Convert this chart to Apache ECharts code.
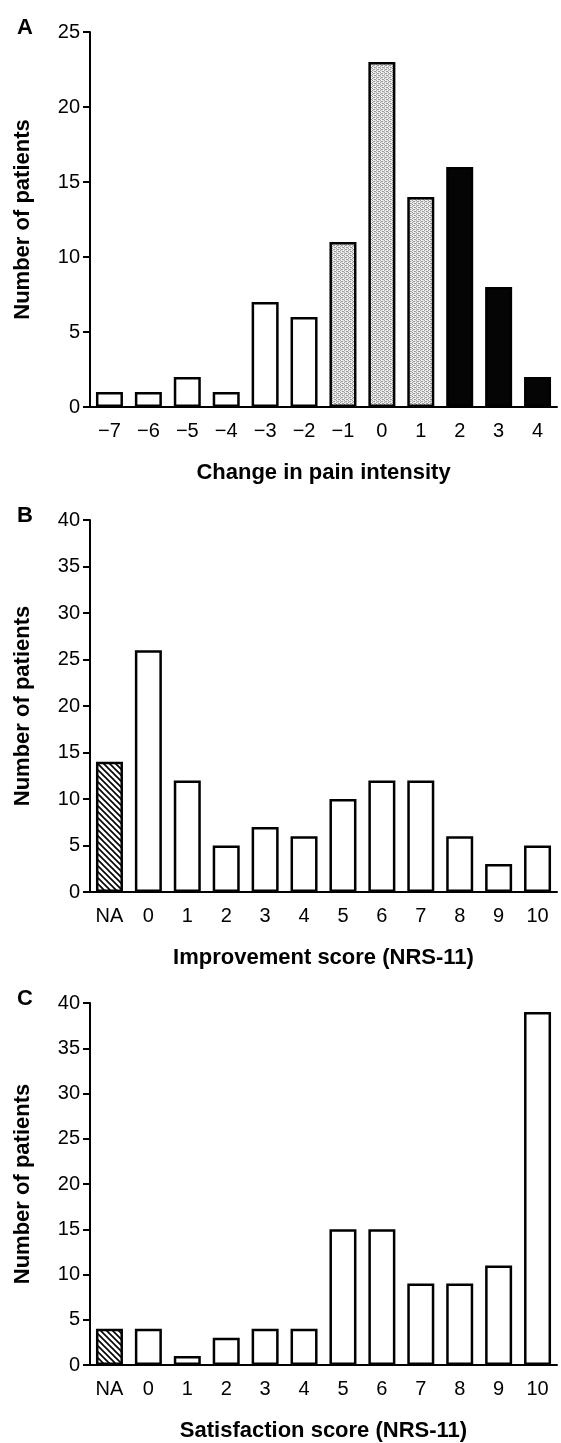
<!DOCTYPE html>
<html><head><meta charset="utf-8">
<script src="https://cdn.jsdelivr.net/npm/echarts/dist/echarts.min.js"></script>
<style>html,body{margin:0;padding:0;background:#fff}#c{width:561px;height:1443px}</style>
</head><body><div id="c"></div>
<script>
// ---- data ----
const changeCategories = [-7, -6, -5, -4, -3, -2, -1, 0, 1, 2, 3, 4];
const changeCounts = [1, 1, 2, 1, 7, 6, 11, 23, 14, 16, 8, 2];
const scoreCategories = ['NA', '0', '1', '2', '3', '4', '5', '6', '7', '8', '9', '10'];
const improvementCounts = [14, 26, 12, 5, 7, 6, 10, 12, 12, 6, 3, 5];
const satisfactionCounts = [4, 4, 1, 3, 4, 4, 15, 15, 9, 9, 11, 39];
const yTicksA = [0, 5, 10, 15, 20, 25];
const yTicksBC = [0, 5, 10, 15, 20, 25, 30, 35, 40];
const changeTickLabels = changeCategories.map(v => v < 0 ? '\u2212' + Math.abs(v) : String(v));

// ---- fill patterns ----
function dotPattern() {
  const s = 4;
  const c = document.createElement('canvas'); c.width = s; c.height = s;
  const g = c.getContext('2d');
  g.fillStyle = '#e4e4e4'; g.fillRect(0, 0, s, s);
  g.fillStyle = '#9c9c9c';
  [[0, 0], [2, 1], [0, 2], [2, 3], [1, 1], [3, 3]].forEach(p => g.fillRect(p[0], p[1], 1, 1));
  g.fillStyle = '#ffffff';
  [[1, 0], [3, 2]].forEach(p => g.fillRect(p[0], p[1], 1, 1));
  return c;
}
function hatchPattern() {
  const s = 6;
  const c = document.createElement('canvas'); c.width = s; c.height = s;
  const g = c.getContext('2d');
  g.fillStyle = '#ffffff'; g.fillRect(0, 0, s, s);
  g.strokeStyle = '#000'; g.lineWidth = 1.6;
  g.beginPath();
  g.moveTo(0, 0); g.lineTo(s, s);
  g.moveTo(-1, s - 1); g.lineTo(1, s + 1);
  g.moveTo(s - 1, -1); g.lineTo(s + 1, 1);
  g.stroke();
  return c;
}
const dotFill = { image: dotPattern(), repeat: 'repeat' };
const hatchFill = { image: hatchPattern(), repeat: 'repeat' };

function changeFill(v) {
  if (v <= -2) return '#ffffff';
  if (v <= 1) return dotFill;
  return '#050505';
}
function scoreFill(cat) { return cat === 'NA' ? hatchFill : '#ffffff'; }

const FONT = 'Liberation Sans, Arial, sans-serif';
const grids = [
  { left: 90, right: 4, top: 32, height: 375 },
  { left: 90, right: 4, top: 520, height: 372 },
  { left: 90, right: 4, top: 1003, height: 370 }
];
function xAx(gi, data, name) {
  return {
    type: 'category', gridIndex: gi, data: data, name: name,
    nameLocation: 'middle', nameGap: 55,
    nameTextStyle: { fontFamily: FONT, fontWeight: 'bold', fontSize: 22, color: '#000' },
    axisLine: { lineStyle: { color: '#000', width: 2 } },
    axisTick: { alignWithLabel: true, length: 7, lineStyle: { color: '#000', width: 2 } },
    axisLabel: { fontFamily: FONT, fontSize: 20, color: '#000', margin: 14, interval: 0 }
  };
}
function yAx(gi, ticks) {
  return {
    type: 'value', gridIndex: gi, min: ticks[0], max: ticks[ticks.length - 1],
    interval: ticks[1] - ticks[0],
    name: 'Number of patients', nameLocation: 'middle', nameRotate: 90, nameGap: 56,
    nameTextStyle: { fontFamily: FONT, fontWeight: 'bold', fontSize: 22, color: '#000' },
    splitLine: { show: false },
    axisLine: { show: true, lineStyle: { color: '#000', width: 2 } },
    axisTick: { show: true, length: 7, lineStyle: { color: '#000', width: 2 } },
    axisLabel: { fontFamily: FONT, fontSize: 20, color: '#000', margin: 10 }
  };
}
function barSeries(gi, values, fills) {
  return {
    type: 'bar', xAxisIndex: gi, yAxisIndex: gi, barWidth: 27,
    data: values.map((v, i) => ({ value: v, itemStyle: { color: fills[i] } })),
    itemStyle: { borderColor: '#000', borderWidth: 2.5 },
    emphasis: { disabled: true }, animation: false
  };
}

const chart = echarts.init(document.getElementById('c'), null, { renderer: 'canvas' });
chart.setOption({
  backgroundColor: '#fff',
  animation: false,
  title: [
    { text: 'A', left: 12, top: 12 },
    { text: 'B', left: 12, top: 500 },
    { text: 'C', left: 12, top: 983 }
  ].map(t => Object.assign(t, { textStyle: { fontFamily: FONT, fontWeight: 'bold', fontSize: 22, color: '#000' } })),
  grid: grids,
  xAxis: [
    xAx(0, changeTickLabels, 'Change in pain intensity'),
    xAx(1, scoreCategories, 'Improvement score (NRS-11)'),
    xAx(2, scoreCategories, 'Satisfaction score (NRS-11)')
  ],
  yAxis: [yAx(0, yTicksA), yAx(1, yTicksBC), yAx(2, yTicksBC)],
  series: [
    barSeries(0, changeCounts, changeCategories.map(changeFill)),
    barSeries(1, improvementCounts, scoreCategories.map(scoreFill)),
    barSeries(2, satisfactionCounts, scoreCategories.map(scoreFill))
  ]
});
</script></body></html>
